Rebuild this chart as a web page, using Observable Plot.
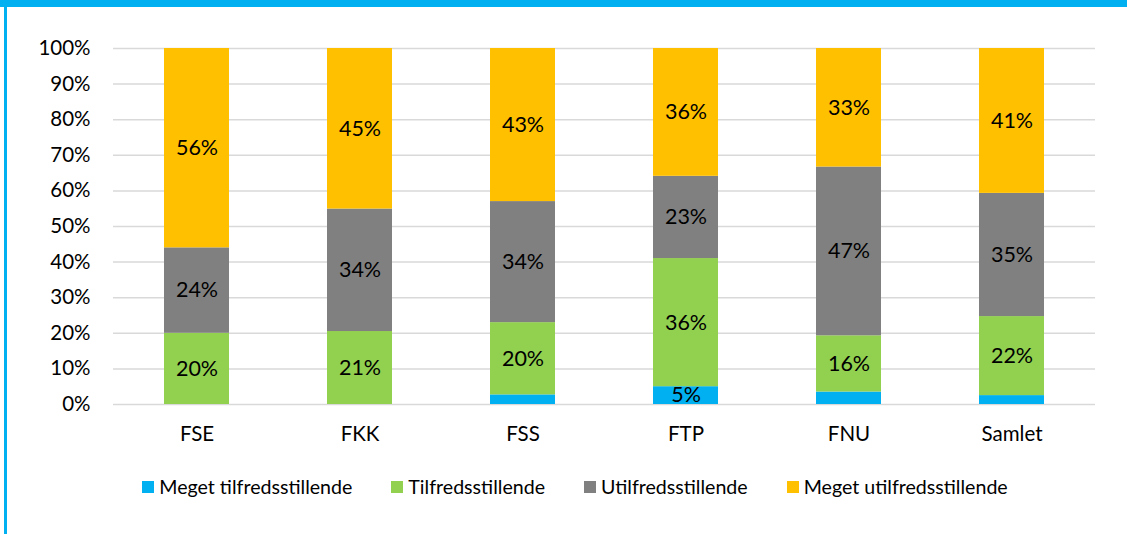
<!DOCTYPE html>
<html><head><meta charset="utf-8">
<script src="https://cdn.jsdelivr.net/npm/d3@7"></script>
<script src="https://cdn.jsdelivr.net/npm/@observablehq/plot@0.6"></script>
<style>
body{margin:0;background:#fff;font-family:Lato,"Noto Sans",sans-serif;}
#wrap{position:relative;width:1127px;height:534px;overflow:hidden;background:#fff;}
#topbar{position:absolute;left:0;top:0;width:1127px;height:7px;background:#00b0f0;}
#leftbar{position:absolute;left:4px;top:0;width:3px;height:534px;background:#00b0f0;}
#chart{position:absolute;left:0;top:0;}
#legend{position:absolute;top:475px;left:0;width:1150px;display:flex;justify-content:center;gap:39px;font-size:19.6px;color:#000;}
#legend .item{display:flex;align-items:center;gap:5px;}
#legend .sw{width:12px;height:12px;display:inline-block;}
</style>
</head><body>
<div id="wrap"><div id="topbar"></div><div id="leftbar"></div><div id="chart"></div><div id="legend"></div></div>
<script>
const categories = ["FSE","FKK","FSS","FTP","FNU","Samlet"];
const seriesNames = ["Meget tilfredsstillende","Tilfredsstillende","Utilfredsstillende","Meget utilfredsstillende"];
const seriesColors = ["#00b0f0","#92d050","#808080","#ffc000"];
const megetTilfreds = [0, 0, 2.7, 5.0, 3.5, 2.5];
const tilfreds = [20.0, 20.5, 20.3, 36.0, 15.8, 22.2];
const utilfreds = [24.0, 34.4, 34.0, 23.1, 47.4, 34.6];
const megetUtilfreds = [56.0, 45.1, 43.0, 35.9, 33.3, 40.7];
const yTicks = [0,10,20,30,40,50,60,70,80,90,100];

const seriesValues = [megetTilfreds, tilfreds, utilfreds, megetUtilfreds];
const data = [];
seriesNames.forEach((s, si) => categories.forEach((c, ci) => data.push({cat: c, series: s, value: seriesValues[si][ci]})));

const chart = Plot.plot({
  width: 1127, height: 460,
  marginLeft: 113, marginRight: 32, marginTop: 48, marginBottom: 56,
  style: {fontFamily: "Lato, 'Noto Sans', sans-serif", fontSize: "20.5px", color: "#000", background: "transparent"},
  x: {domain: categories, paddingInner: 0.6, paddingOuter: 0.3, label: null, tickSize: 0, tickPadding: 22},
  y: {domain: [0, 100], ticks: yTicks, tickFormat: d => d + "%", label: null, tickSize: 0, tickPadding: 23},
  color: {domain: seriesNames, range: seriesColors},
  marks: [
    Plot.ruleY(yTicks, {stroke: "#d9d9d9", strokeWidth: 1.5}),
    Plot.barY(data, {x: "cat", y: "value", fill: "series", order: seriesNames}),
    Plot.text(data, Plot.stackY({x: "cat", y: "value", z: "series", order: seriesNames,
      text: d => d.value >= 4.5 ? Math.round(d.value) + "%" : "", fill: "#000", fontSize: 21.5}))
  ]
});
document.getElementById("chart").appendChild(chart);

const legend = d3.select("#legend");
seriesNames.forEach((s, i) => {
  const it = legend.append("div").attr("class", "item");
  it.append("span").attr("class", "sw").style("background", seriesColors[i]);
  it.append("span").text(s);
});
</script>
</body></html>
